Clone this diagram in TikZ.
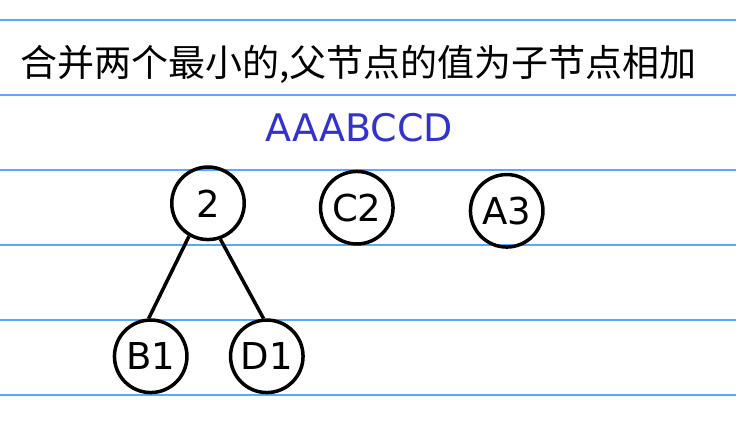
\documentclass[tikz,border=0pt]{standalone}
\usepackage{fontspec}
\setmainfont{DejaVu Sans}
\newfontfamily\cjk{Noto Sans CJK SC}
\definecolor{rule}{HTML}{55AAFF}
\definecolor{ttl}{HTML}{3333CC}
\begin{document}
\begin{tikzpicture}[x=1pt,y=1pt,
  ruleline/.style={draw=rule,line width=2pt},
  treenode/.style={circle,draw=black,line width=3.5pt,minimum size=72.5pt,inner sep=0pt,font=\fontsize{37}{42}\selectfont},
  edge/.style={draw=black,line width=3.5pt}]
\useasboundingbox (0,0) rectangle (736,-421);
\foreach \y [count=\i] in {20,95,170,245,320,395}
  \coordinate (L\i) at (0,-\y);
\foreach \i in {1,...,6}
  \draw[ruleline] (L\i) -- ++(736,0);
\node[inner sep=0pt,font=\cjk\fontsize{37}{42}\selectfont] (title) at (358.8,-64.5) {合并两个最小的,父节点的值为子节点相加};
\node[inner sep=0pt,anchor=base,text=ttl,font=\fontsize{38}{44}\selectfont] (seq) at (359.3,-141.7) {AAABCCD};
\node[treenode] (n2) at (208,-203.3) {2};
\node[treenode] (C2) at (356.8,-207.7) {C2};
\node[treenode] (A3) at (506.7,-210.8) {A3};
\node[treenode] (B1) at (150.7,-356.3) {B1};
\node[treenode] (D1) at (266.8,-356.3) {D1};
\draw[edge] (n2.240) -- (B1.93);
\draw[edge] (n2.289) -- (D1.95);
\end{tikzpicture}
\end{document}
